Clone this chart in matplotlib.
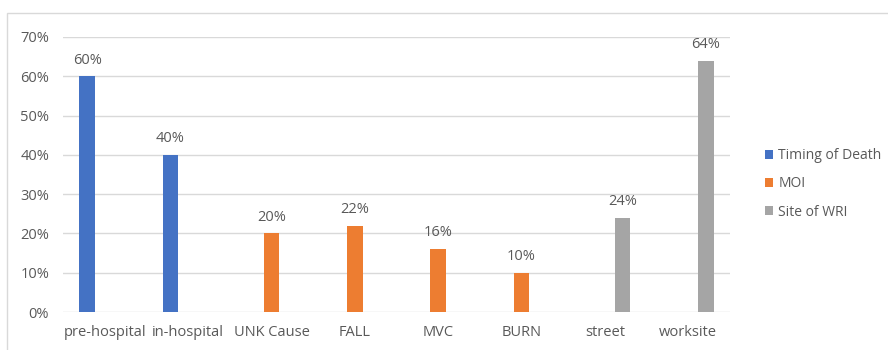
import matplotlib.pyplot as plt
from matplotlib.patches import Rectangle
from matplotlib.ticker import PercentFormatter
import numpy as np

categories = ["pre-hospital", "in-hospital", "UNK Cause", "FALL", "MVC", "BURN", "street", "worksite"]
series_names = ["Timing of Death", "MOI", "Site of WRI"]
timing_of_death = [60, 40, 0, 0, 0, 0, 0, 0]
moi = [0, 0, 20, 22, 16, 10, 0, 0]
site_of_wri = [0, 0, 0, 0, 0, 0, 24, 64]

colors = ["#4472C4", "#ED7D31", "#A5A5A5"]
text_color = "#595959"

plt.rcParams["font.family"] = ["Open Sans", "DejaVu Sans"]

fig = plt.figure(figsize=(8.88, 3.5), dpi=100)
ax = fig.add_axes([63 / 888, 38 / 350, 667 / 888, 275 / 350])

# chart frame (only left and top edges fall inside the image)
fig.patches.append(Rectangle((7 / 888, -0.1), 1.2, 0.1 + 337 / 350, transform=fig.transFigure,
                             fill=False, edgecolor="#d9d9d9", linewidth=1.0))

x = np.arange(len(categories))
width = 0.19
offsets = [-0.21, 0.0, 0.21]
all_series = [timing_of_death, moi, site_of_wri]

for values, off, color, name in zip(all_series, offsets, colors, series_names):
    bars = ax.bar(x + off, values, width, color=color, label=name, zorder=3)
    for rect, v in zip(bars, values):
        if v > 0:
            ax.text(rect.get_x() + rect.get_width() / 2, v + 2.2, f"{v}%",
                    ha="center", va="bottom", fontsize=10.5, color=text_color)

ax.set_xlim(-0.5, len(categories) - 0.5)
ax.set_ylim(0, 70)
ax.set_yticks(range(0, 71, 10))
ax.yaxis.set_major_formatter(PercentFormatter(decimals=0))
ax.set_xticks(x)
ax.set_xticklabels(categories)
ax.tick_params(axis="both", length=0, labelsize=10.5, colors=text_color)
ax.tick_params(axis="y", pad=10)
ax.tick_params(axis="x", pad=9)
ax.grid(axis="y", color="#d9d9d9", linewidth=1.0, zorder=0)
for s in ax.spines.values():
    s.set_visible(False)

ax.legend(loc="center left", bbox_to_anchor=(1.033, 0.466), frameon=False, fontsize=10,
          labelcolor=text_color, handlelength=0.6, handleheight=0.6, handletextpad=0.4,
          labelspacing=0.95)

fig.savefig("out.png", dpi=100)
